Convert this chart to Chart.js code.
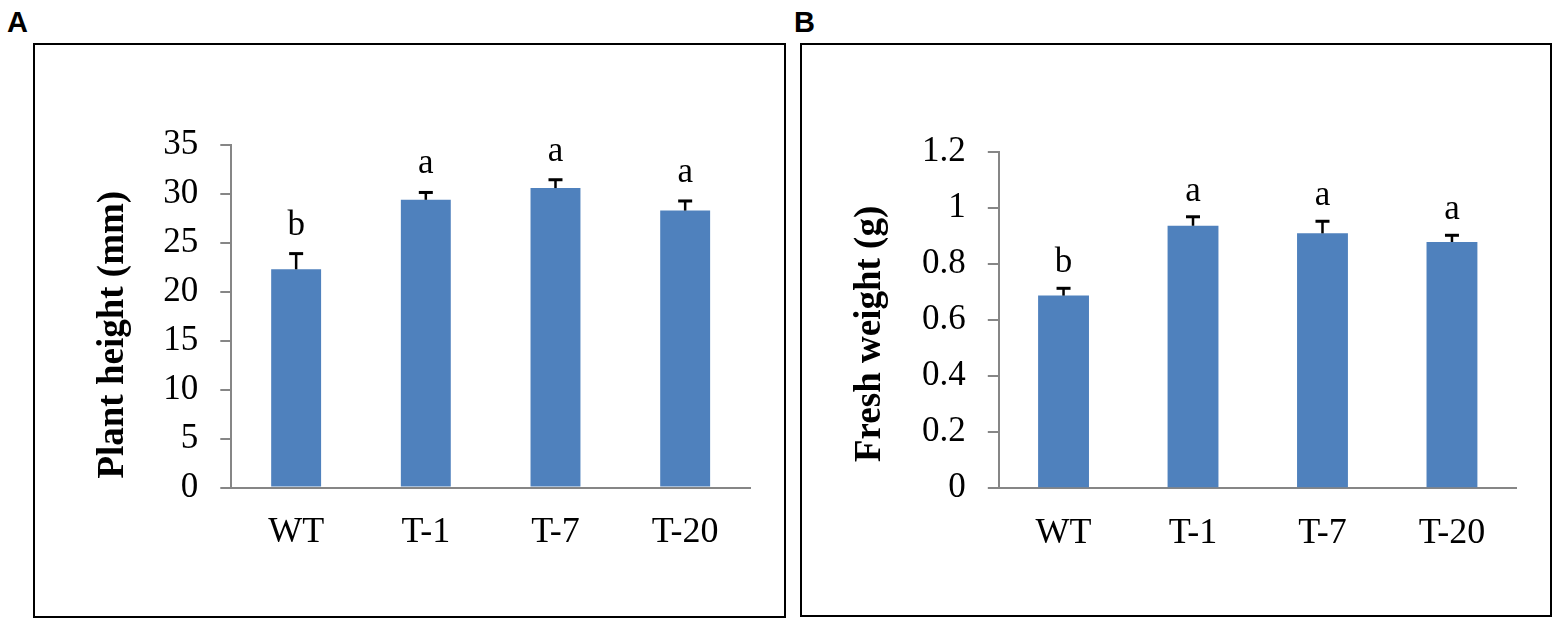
<!DOCTYPE html>
<html><head><meta charset="utf-8">
<script src="https://cdn.jsdelivr.net/npm/chart.js@4.4.0/dist/chart.umd.min.js"></script>
<style>
html,body{margin:0;padding:0;background:#fff;}
body{width:1562px;height:625px;position:relative;overflow:hidden;}
.frame{position:absolute;border:2px solid #000;box-sizing:border-box;}
.lbl{position:absolute;font:bold 29px "Liberation Sans",Arial,sans-serif;line-height:29px;color:#000;}
.wrap{position:absolute;top:0;width:781px;height:625px;}
canvas{display:block;}
</style></head><body>
<div class="frame" style="left:33px;top:43px;width:753px;height:575px;"></div>
<div class="frame" style="left:800px;top:43px;width:752px;height:574px;"></div>
<div class="lbl" style="left:7px;top:8px;">A</div>
<div class="lbl" style="left:794px;top:8px;">B</div>
<div class="wrap" style="left:0;"><canvas id="cA" width="781" height="625"></canvas></div>
<div class="wrap" style="left:781px;"><canvas id="cB" width="781" height="625"></canvas></div>
<script>
// ---- data ----
const categories = ['WT', 'T-1', 'T-7', 'T-20'];
const heightValues = [22.3, 29.4, 30.6, 28.3];
const heightErrors = [1.6, 0.75, 0.85, 0.98];
const heightLetters = ['b', 'a', 'a', 'a'];
const weightValues = [0.687, 0.936, 0.909, 0.878];
const weightErrors = [0.026, 0.032, 0.043, 0.024];
const weightLetters = ['b', 'a', 'a', 'a'];

const BAR = '#4F81BD';
const AXIS = '#868686';
const SERIF = '"Liberation Serif", "Times New Roman", serif';

const errorBarPlugin = {
  id: 'errorBars',
  afterDatasetsDraw(chart, args, opts) {
    const ctx = chart.ctx;
    const meta = chart.getDatasetMeta(0);
    const y = chart.scales.y;
    const vals = chart.data.datasets[0].data;
    ctx.save();
    meta.data.forEach((bar, i) => {
      const yBar = y.getPixelForValue(vals[i]);
      const yTop = y.getPixelForValue(vals[i] + opts.errors[i]);
      ctx.strokeStyle = '#000';
      ctx.lineWidth = 2.5;
      ctx.beginPath();
      ctx.moveTo(bar.x, yBar);
      ctx.lineTo(bar.x, yTop);
      ctx.stroke();
      ctx.lineWidth = 3;
      ctx.beginPath();
      ctx.moveTo(bar.x - 7, yTop);
      ctx.lineTo(bar.x + 7, yTop);
      ctx.stroke();
      ctx.fillStyle = '#000';
      ctx.font = '35px ' + SERIF;
      ctx.textAlign = 'center';
      ctx.textBaseline = 'alphabetic';
      ctx.fillText(opts.letters[i], bar.x, yTop - opts.gap);
    });
    ctx.restore();
  }
};

function makeChart(id, values, errors, letters, cfg) {
  return new Chart(document.getElementById(id), {
    type: 'bar',
    data: {
      labels: categories,
      datasets: [{
        data: values,
        backgroundColor: BAR,
        borderWidth: 0,
        categoryPercentage: 1,
        barPercentage: cfg.barPct
      }]
    },
    options: {
      responsive: false,
      animation: false,
      devicePixelRatio: 1,
      layout: { padding: cfg.padding },
      plugins: {
        legend: { display: false },
        tooltip: { enabled: false },
        errorBars: { errors: errors, letters: letters, gap: cfg.gap }
      },
      scales: {
        x: {
          grid: { display: false, drawTicks: false, tickLength: 0 },
          border: { display: true, color: AXIS, width: 2 },
          ticks: { color: '#000', font: { family: SERIF, size: 36 }, padding: cfg.xPad, maxRotation: 0 },
          afterFit: (s) => { s.height = 60; }
        },
        y: {
          min: 0,
          max: cfg.max,
          ticks: {
            stepSize: cfg.step, color: '#000', font: { family: SERIF, size: 35 }, padding: 22,
            callback: (v) => String(Math.round(v * 10) / 10)
          },
          grid: { drawOnChartArea: false, drawTicks: true, tickLength: 11, color: AXIS, lineWidth: 2 },
          border: { display: true, color: AXIS, width: 2 },
          title: {
            display: true,
            text: cfg.title,
            color: '#000',
            font: { family: SERIF, size: 37, weight: 'bold' },
            padding: { top: 0, bottom: 0 }
          },
          afterFit: (s) => { s.width = cfg.yWidth; }
        }
      }
    },
    plugins: [errorBarPlugin]
  });
}

makeChart('cA', heightValues, heightErrors, heightLetters, {
  barPct: 0.385, gap: 19,
  padding: { left: 91, right: 31, top: 145, bottom: 77.5 },
  yWidth: 140.3, max: 35, step: 5, xPad: 23,
  title: 'Plant height (mm)    '
});

makeChart('cB', weightValues, weightErrors, weightLetters, {
  barPct: 0.393, gap: 16,
  padding: { left: 67.2, right: 45.3, top: 151.7, bottom: 76.7 },
  yWidth: 150.6, max: 1.2, step: 0.2, xPad: 24,
  title: 'Fresh weight (g)   '
});
</script>
</body></html>
